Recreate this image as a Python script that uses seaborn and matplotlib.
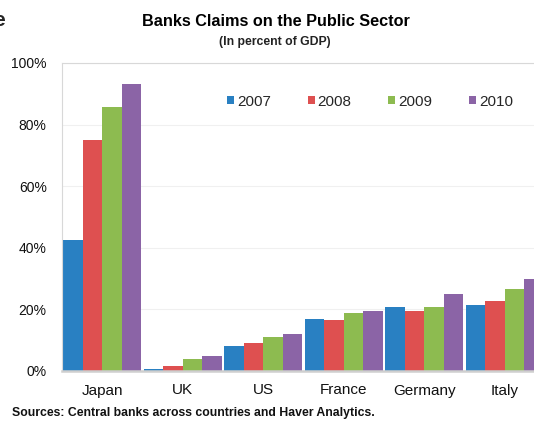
import matplotlib
matplotlib.use("Agg")
import matplotlib.pyplot as plt
from matplotlib.patches import Patch
import seaborn as sns
import pandas as pd

# Bank claims on the public sector, percent of GDP
countries = ["Japan", "UK", "US", "France", "Germany", "Italy"]
years = ["2007", "2008", "2009", "2010"]
claims_2007 = [42.4, 0.6, 8.1, 16.8, 20.8, 21.5]
claims_2008 = [75.0, 1.6, 9.0, 16.6, 19.4, 22.6]
claims_2009 = [85.8, 3.9, 10.9, 18.7, 20.8, 26.6]
claims_2010 = [93.2, 4.9, 11.9, 19.5, 25.1, 29.8]
yticks = [0, 20, 40, 60, 80, 100]
palette = ["#2980c2", "#de5050", "#8dbb50", "#8b64a6"]

rows = []
for year, vals in zip(years, [claims_2007, claims_2008, claims_2009, claims_2010]):
    for c, v in zip(countries, vals):
        rows.append({"country": c, "year": year, "value": v})
df = pd.DataFrame(rows)

sns.set_theme(style="white")
plt.rcParams["font.family"] = ["Liberation Sans", "DejaVu Sans"]

W, H = 534, 421
fig = plt.figure(figsize=(W / 100, H / 100), dpi=100)
ax = fig.add_axes([62 / W, (H - 371) / H, (545 - 62) / W, (371 - 63) / H])

sns.barplot(data=df, x="country", y="value", hue="year", palette=palette,
            width=0.97, saturation=1, edgecolor="none", ax=ax, legend=False)

ax.set_ylim(0, 100)
ax.set_xlim(-0.5, 5.5)
ax.set_yticks(yticks)
ax.set_yticklabels([f"{t}%" for t in yticks], fontsize=10, color="#111111")
ax.tick_params(axis="x", labelsize=11, colors="#111111", length=0, pad=9)
ax.tick_params(axis="y", length=3, width=0.6, color="#d0d0d0", pad=8)
ax.set_xlabel("")
ax.set_ylabel("")
ax.grid(axis="y", color="#f0f0f0", linewidth=0.8)
ax.set_axisbelow(True)
for side in ["top", "left", "right"]:
    ax.spines[side].set_color("#d8d8d8")
    ax.spines[side].set_linewidth(0.8)
ax.spines["bottom"].set_color("#cfcfcf")
ax.spines["bottom"].set_linewidth(1.8)

handles = [Patch(facecolor=c, edgecolor="none", label=y) for c, y in zip(palette, years)]
fig.legend(handles=handles, loc="center", bbox_to_anchor=(370 / W, 1 - 101.7 / H),
           ncol=4, frameon=False, fontsize=11, handlelength=0.46, handleheight=0.46,
           handletextpad=0.2, columnspacing=2.4, borderpad=0)

fig.text(276 / W, 1 - 21 / H, "Banks Claims on the Public Sector", ha="center", va="center",
         fontsize=11.7, fontweight="bold", color="#000000")
fig.text(275 / W, 1 - 42 / H, "(In percent of GDP)", ha="center", va="center",
         fontsize=8.8, fontweight="bold", color="#222222")
fig.text(-7 / W, 1 - 20 / H, "e", ha="left", va="center", fontsize=15, fontweight="bold")
fig.text(12 / W, 1 - 413 / H, "Sources: Central banks across countries and Haver Analytics.",
         ha="left", va="center", fontsize=8.8, fontweight="bold", color="#111111")

fig.savefig("out.png", dpi=100)
